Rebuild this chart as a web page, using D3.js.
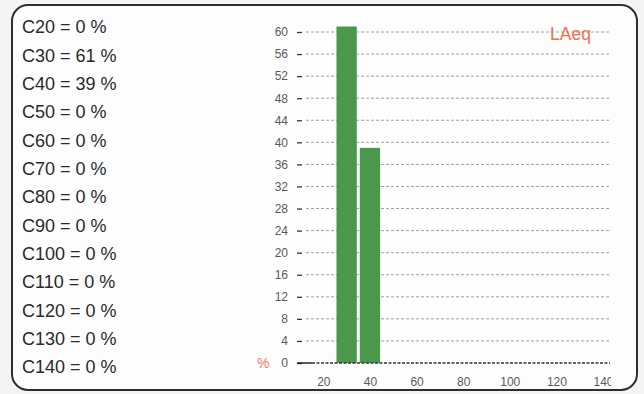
<!DOCTYPE html>
<html><head><meta charset="utf-8">
<script src="https://cdn.jsdelivr.net/npm/d3@7"></script>
<style>
html,body{margin:0;padding:0;background:#fff;}
svg{display:block;font-family:"Liberation Sans",Arial,sans-serif;}
</style></head>
<body>
<svg id="c" width="644" height="394"></svg>
<script>
const classes = [20,30,40,50,60,70,80,90,100,110,120,130,140];
const percents = [0,61,39,0,0,0,0,0,0,0,0,0,0];
const yTicks = [0,4,8,12,16,20,24,28,32,36,40,44,48,52,56,60];
const xTicks = [20,40,60,80,100,120,140];
const legendLabel = "LAeq";
const unitLabel = "%";

const svg = d3.select("#c");
svg.append("rect").attr("width",644).attr("height",394).attr("fill","#f4f4f4");
svg.append("rect").attr("x",12).attr("y",5).attr("width",625).attr("height",385)
  .attr("rx",16).attr("fill","#fdfdfd").attr("stroke","#2e2e2e").attr("stroke-width",2);

// left list
const list = svg.append("g");
const ly = d3.scalePoint().domain(classes).range([27,367]);
list.selectAll("text").data(classes).join("text")
  .attr("x",22).attr("y",d=>ly(d)).attr("dy","0.36em")
  .attr("font-size",18).attr("fill","#2a2a2a")
  .text((d,i)=>`C${d} = ${percents[i]} %`);

const x = d3.scaleLinear().domain([16,143]).range([314,610]);
const y = d3.scaleLinear().domain([0,60]).range([363,32]);

// gridlines
svg.append("g").selectAll("line").data(yTicks.filter(d=>d>0)).join("line")
  .attr("x1",306).attr("x2",610).attr("y1",d=>y(d)).attr("y2",d=>y(d))
  .attr("stroke","#8a8a8a").attr("stroke-width",0.8).attr("stroke-dasharray","3,2");

// y axis ticks
const yAxis = d3.axisLeft(y).tickValues(yTicks).tickSize(5).tickPadding(9);
const ga = svg.append("g").attr("transform","translate(302,0)").call(yAxis);
ga.select(".domain").remove();
ga.selectAll(".tick line").attr("stroke","#333").attr("stroke-width",1.3);
ga.selectAll(".tick text").attr("font-size",12).attr("fill","#5a5a5a");

// bars
const bw = 4.35;
svg.append("g").selectAll("rect").data(classes.map((c,i)=>({c,v:percents[i]})).filter(d=>d.v>0)).join("rect")
  .attr("x",d=>x(d.c-bw)).attr("width",d=>x(d.c+bw)-x(d.c-bw))
  .attr("y",d=>y(d.v)).attr("height",d=>y(0)-y(d.v))
  .attr("fill","#4a984c");

// baseline
svg.append("line").attr("x1",297).attr("x2",312).attr("y1",y(0)).attr("y2",y(0))
  .attr("stroke","#222").attr("stroke-width",1.5);
svg.append("line").attr("x1",312).attr("x2",610).attr("y1",y(0)).attr("y2",y(0))
  .attr("stroke","#333").attr("stroke-width",1.3).attr("stroke-dasharray","3,1.5");

// x axis labels (clipped at right)
svg.append("clipPath").attr("id","xc").append("rect").attr("x",290).attr("y",365).attr("width",321).attr("height",28);
const xAxis = d3.axisBottom(x).tickValues(xTicks).tickSize(0).tickPadding(14);
const gx = svg.append("g").attr("clip-path","url(#xc)").append("g")
  .attr("transform",`translate(0,${y(0)})`).call(xAxis);
gx.select(".domain").remove();
gx.selectAll(".tick text").attr("font-size",12).attr("fill","#5a5a5a");

// unit and legend
svg.append("text").attr("x",257).attr("y",y(0)).attr("dy","0.36em")
  .attr("font-size",14).attr("fill","#f07a5e").text(unitLabel);
svg.append("text").attr("x",550).attr("y",40)
  .attr("font-size",17.5).attr("fill","#f07050").text(legendLabel);
</script>
</body></html>
